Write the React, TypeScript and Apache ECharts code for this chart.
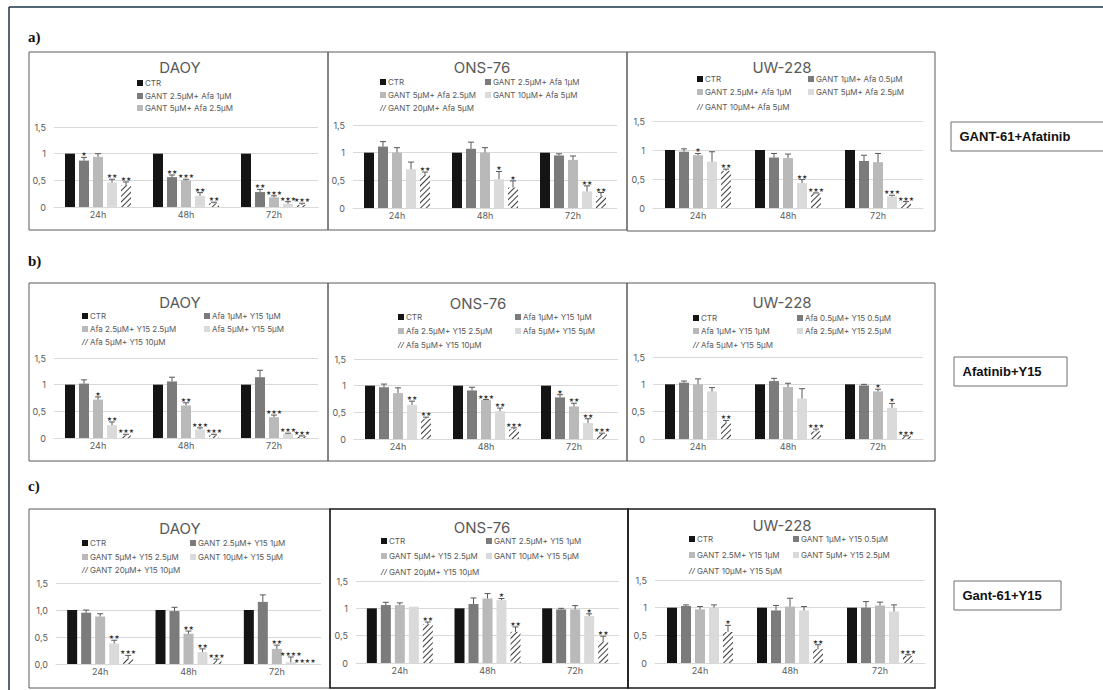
import React, { useEffect, useRef } from "react";
import * as echarts from "echarts";

const TIME_POINTS = ["24h", "48h", "72h"];
const Y_TICK_LABELS = ["0", "0,5", "1", "1,5"];
const Y_TICK_LABELS_DEC = ["0,0", "0,5", "1,0", "1,5"];

// ---------- a) GANT-61 + Afatinib ----------
const A_DAOY_NAMES = ["CTR", "GANT 2.5µM+ Afa 1µM", "GANT 5µM+ Afa 2.5µM", "GANT 10µM+ Afa 5µM", "GANT 20µM+ Afa 5µM"];
const A_DAOY_MEAN = [[1, 1, 1], [0.87, 0.56, 0.28], [0.94, 0.5, 0.18], [0.46, 0.21, 0.06], [0.41, 0.07, 0.04]];
const A_DAOY_ERR = [[0, 0, 0], [0.06, 0.04, 0.05], [0.06, 0.02, 0.03], [0.06, 0.06, 0.04], [0.06, 0.02, 0.03]];
const A_DAOY_SIG = [["", "", ""], ["★", "★★", "★★"], ["", "★★★", "★★★"], ["★★", "★★", "★★★"], ["★★", "★★", "★★★"]];

const A_ONS_NAMES = ["CTR", "GANT 2.5µM+ Afa 1µM", "GANT 5µM+ Afa 2.5µM", "GANT 10µM+ Afa 5µM", "GANT 20µM+ Afa 5µM"];
const A_ONS_MEAN = [[1, 1, 1], [1.11, 1.07, 0.95], [1.0, 1.0, 0.87], [0.7, 0.52, 0.3], [0.6, 0.37, 0.21]];
const A_ONS_ERR = [[0, 0, 0], [0.09, 0.12, 0.03], [0.09, 0.09, 0.07], [0.13, 0.14, 0.1], [0.05, 0.12, 0.07]];
const A_ONS_SIG = [["", "", ""], ["", "", ""], ["", "", ""], ["", "★", "★★"], ["★★", "★", "★★"]];

const A_UW_NAMES = ["CTR", "GANT 1µM+ Afa 0.5µM", "GANT 2.5µM+ Afa 1µM", "GANT 5µM+ Afa 2.5µM", "GANT 10µM+ Afa 5µM"];
const A_UW_MEAN = [[1, 1, 1], [0.97, 0.87, 0.81], [0.91, 0.86, 0.79], [0.8, 0.43, 0.2], [0.64, 0.25, 0.09]];
const A_UW_ERR = [[0, 0, 0], [0.05, 0.07, 0.1], [0.03, 0.07, 0.15], [0.17, 0.06, 0.02], [0.03, 0.01, 0.02]];
const A_UW_SIG = [["", "", ""], ["", "", ""], ["★", "", ""], ["", "★★", "★★★"], ["★★", "★★★", "★★★"]];

// ---------- b) Afatinib + Y15 ----------
const B_DAOY_NAMES = ["CTR", "Afa 1µM+ Y15 1µM", "Afa 2.5µM+ Y15 2.5µM", "Afa 5µM+ Y15 5µM", "Afa 5µM+ Y15 10µM"];
const B_DAOY_MEAN = [[1, 1, 1], [1.02, 1.06, 1.14], [0.72, 0.61, 0.39], [0.24, 0.16, 0.08], [0.05, 0.05, 0.03]];
const B_DAOY_ERR = [[0, 0, 0], [0.07, 0.08, 0.13], [0.05, 0.05, 0.04], [0.06, 0.03, 0.01], [0.02, 0.02, 0.01]];
const B_DAOY_SIG = [["", "", ""], ["", "", ""], ["★", "★★", "★★★"], ["★★", "★★★", "★★★"], ["★★★", "★★★", "★★★"]];

const B_ONS_NAMES = ["CTR", "Afa 1µM+ Y15 1µM", "Afa 2.5µM+ Y15 2.5µM", "Afa 5µM+ Y15 5µM", "Afa 5µM+ Y15 10µM"];
const B_ONS_MEAN = [[1, 1, 1], [0.97, 0.91, 0.78], [0.86, 0.73, 0.61], [0.64, 0.52, 0.3], [0.38, 0.18, 0.1]];
const B_ONS_ERR = [[0, 0, 0], [0.06, 0.06, 0.05], [0.1, 0.01, 0.06], [0.07, 0.06, 0.08], [0.03, 0.03, 0.01]];
const B_ONS_SIG = [["", "", ""], ["", "", "★"], ["", "★★★", "★★"], ["★★", "★★", "★★"], ["★★", "★★★", "★★★"]];

const B_UW_NAMES = ["CTR", "Afa 0.5µM+ Y15 0.5µM", "Afa 1µM+ Y15 1µM", "Afa 2.5µM+ Y15 2.5µM", "Afa 5µM+ Y15 5µM"];
const B_UW_MEAN = [[1, 1, 1], [1.03, 1.06, 0.98], [1.0, 0.95, 0.87], [0.87, 0.74, 0.57], [0.29, 0.14, 0.05]];
const B_UW_ERR = [[0, 0, 0], [0.03, 0.05, 0.02], [0.1, 0.07, 0.04], [0.07, 0.18, 0.08], [0.05, 0.04, 0.01]];
const B_UW_SIG = [["", "", ""], ["", "", ""], ["", "", "★"], ["", "", "★"], ["★★", "★★★", "★★★"]];

// ---------- c) GANT-61 + Y15 ----------
const C_DAOY_NAMES = ["CTR", "GANT 2.5µM+ Y15 1µM", "GANT 5µM+ Y15 2.5µM", "GANT 10µM+ Y15 5µM", "GANT 20µM+ Y15 10µM"];
const C_DAOY_MEAN = [[1, 1, 1], [0.95, 0.98, 1.15], [0.88, 0.56, 0.28], [0.38, 0.22, 0.03], [0.1, 0.06, 0.005]];
const C_DAOY_ERR = [[0, 0, 0], [0.05, 0.07, 0.13], [0.05, 0.05, 0.07], [0.06, 0.06, 0.1], [0.06, 0.03, 0]];
const C_DAOY_SIG = [["", "", ""], ["", "", ""], ["", "★★", "★★"], ["★★", "★★", "★★★★"], ["★★★", "★★★", "★★★★"]];

const C_ONS_NAMES = ["CTR", "GANT 2.5µM+ Y15 1µM", "GANT 5µM+ Y15 2.5µM", "GANT 10µM+ Y15 5µM", "GANT 20µM+ Y15 10µM"];
const C_ONS_MEAN = [[1, 1, 1], [1.06, 1.08, 0.98], [1.06, 1.18, 0.98], [1.03, 1.15, 0.86], [0.71, 0.57, 0.39]];
const C_ONS_ERR = [[0, 0, 0], [0.05, 0.11, 0.02], [0.04, 0.09, 0.07], [0.0, 0.03, 0.04], [0.04, 0.09, 0.1]];
const C_ONS_SIG = [["", "", ""], ["", "", ""], ["", "", ""], ["", "★", "★"], ["★★", "★★", "★★"]];

const C_UW_NAMES = ["CTR", "GANT 1µM+ Y15 0.5µM", "GANT 2.5M+ Y15 1µM", "GANT 5µM+ Y15 2.5µM", "GANT 10µM+ Y15 5µM"];
const C_UW_MEAN = [[1, 1, 1], [1.03, 0.95, 1.0], [0.97, 1.02, 1.04], [1.0, 0.95, 0.93], [0.56, 0.25, 0.13]];
const C_UW_ERR = [[0, 0, 0], [0.02, 0.09, 0.11], [0.05, 0.15, 0.06], [0.05, 0.07, 0.12], [0.12, 0.08, 0.02]];
const C_UW_SIG = [["", "", ""], ["", "", ""], ["", "", ""], ["", "", ""], ["★", "★★", "★★★"]];

const ROW_LABELS = ["a)", "b)", "c)"];
const COMBO_LABELS = ["GANT-61+Afatinib", "Afatinib+Y15", "Gant-61+Y15"];

const PANELS = [
  { title: "DAOY", names: A_DAOY_NAMES, mean: A_DAOY_MEAN, err: A_DAOY_ERR, sig: A_DAOY_SIG, ticks: Y_TICK_LABELS, legendCount: 3 },
  { title: "ONS-76", names: A_ONS_NAMES, mean: A_ONS_MEAN, err: A_ONS_ERR, sig: A_ONS_SIG, ticks: Y_TICK_LABELS, legendCount: 5 },
  { title: "UW-228", names: A_UW_NAMES, mean: A_UW_MEAN, err: A_UW_ERR, sig: A_UW_SIG, ticks: Y_TICK_LABELS, legendCount: 5 },
  { title: "DAOY", names: B_DAOY_NAMES, mean: B_DAOY_MEAN, err: B_DAOY_ERR, sig: B_DAOY_SIG, ticks: Y_TICK_LABELS, legendCount: 5 },
  { title: "ONS-76", names: B_ONS_NAMES, mean: B_ONS_MEAN, err: B_ONS_ERR, sig: B_ONS_SIG, ticks: Y_TICK_LABELS, legendCount: 5 },
  { title: "UW-228", names: B_UW_NAMES, mean: B_UW_MEAN, err: B_UW_ERR, sig: B_UW_SIG, ticks: Y_TICK_LABELS, legendCount: 5 },
  { title: "DAOY", names: C_DAOY_NAMES, mean: C_DAOY_MEAN, err: C_DAOY_ERR, sig: C_DAOY_SIG, ticks: Y_TICK_LABELS_DEC, legendCount: 5 },
  { title: "ONS-76", names: C_ONS_NAMES, mean: C_ONS_MEAN, err: C_ONS_ERR, sig: C_ONS_SIG, ticks: Y_TICK_LABELS, legendCount: 5 },
  { title: "UW-228", names: C_UW_NAMES, mean: C_UW_MEAN, err: C_UW_ERR, sig: C_UW_SIG, ticks: Y_TICK_LABELS, legendCount: 5 },
];

// ---------- layout (pixels) ----------
const LAYOUT = [
  { grid: [54, 127, 264, 80], title: [180, 67], cols: [137], rows: [83, 96, 108], single: true, frame: [29, 52, 299, 178] },
  { grid: [353, 125, 264, 83], title: [482, 67], cols: [380, 485], rows: [82, 95, 108], frame: [328, 52, 299, 178] },
  { grid: [653, 121, 270, 87], title: [782, 67], cols: [697, 808], rows: [79, 92, 107], frame: [627, 52, 308, 179] },
  { grid: [54, 358, 264, 80], title: [180, 302], cols: [82, 204], rows: [316, 329, 342], frame: [29, 283, 299, 178] },
  { grid: [354, 359, 264, 80], title: [478, 303], cols: [398, 515], rows: [317, 331, 345], frame: [328, 283, 299, 178] },
  { grid: [653, 357, 270, 82], title: [782, 302], cols: [693, 797], rows: [318, 331, 345], frame: [627, 283, 308, 178] },
  { grid: [56, 583, 265, 81], title: [180, 528], cols: [82, 190], rows: [543, 557, 570], frame: [29, 509, 301, 179] },
  { grid: [356, 581, 263, 82], title: [482, 527], cols: [381, 486], rows: [541, 556, 572], frame: [330, 509, 298, 179], strong: true },
  { grid: [655, 580, 270, 83], title: [782, 525], cols: [689, 793], rows: [539, 555, 571], frame: [628, 509, 307, 179], strong: true },
];
const ROW_LABEL_POS = [[28, 37], [28, 261], [28, 486]];
const COMBO_BOX = [[951, 122, 160, 29], [954, 357, 113, 29], [954, 581, 107, 29]];

const BAR_COLORS = ["#141414", "#7b7b7b", "#b9b9b9", "#dadada", "#ffffff"];
const BAR_W = 10;
const BAR_GAP = 4;
const TXT = "#595959";
const FONT = "Inter, 'Noto Sans', sans-serif";

const HATCH = {
  symbol: "rect",
  symbolSize: 1,
  dashArrayX: [1, 0],
  dashArrayY: [0.9, 2.1],
  rotation: -Math.PI / 4,
  color: "#3c3c3c",
  backgroundColor: "#ffffff",
};

function buildOption() {
  const grid: any[] = [];
  const xAxis: any[] = [];
  const yAxis: any[] = [];
  const series: any[] = [];
  const graphic: any[] = [];

  PANELS.forEach((panel, p) => {
    const L = LAYOUT[p];
    grid.push({ left: L.grid[0], top: L.grid[1], width: L.grid[2], height: L.grid[3], containLabel: false });
    xAxis.push({
      type: "category",
      gridIndex: p,
      data: TIME_POINTS,
      axisTick: { show: false },
      axisLine: { lineStyle: { color: "#d9d9d9" } },
      axisLabel: { color: TXT, fontSize: 9, margin: 3, fontFamily: FONT },
    });
    const ticks = panel.ticks;
    yAxis.push({
      type: "value",
      gridIndex: p,
      min: 0,
      max: 1.5,
      interval: 0.5,
      axisLine: { show: false },
      axisTick: { show: false },
      splitLine: { lineStyle: { color: "#d9d9d9" } },
      axisLabel: {
        color: TXT,
        fontSize: 9,
        margin: 8,
        fontFamily: FONT,
        formatter: (v: number) => ticks[Math.round(v / 0.5)] ?? "",
      },
    });

    panel.names.forEach((name, s) => {
      series.push({
        type: "bar",
        name,
        xAxisIndex: p,
        yAxisIndex: p,
        data: panel.mean[s],
        barWidth: BAR_W,
        barGap: (BAR_GAP / BAR_W) * 100 + "%",
        silent: true,
        itemStyle: s === 4 ? { color: "#ffffff", decal: HATCH } : { color: BAR_COLORS[s] },
      });
    });

    const items: any[] = [];
    const sigs: string[] = [];
    panel.names.forEach((_, s) => {
      TIME_POINTS.forEach((__, t) => {
        items.push([t, s, panel.mean[s][t], panel.err[s][t]]);
        sigs.push(panel.sig[s][t]);
      });
    });
    series.push({
      type: "custom",
      xAxisIndex: p,
      yAxisIndex: p,
      silent: true,
      clip: false,
      z: 5,
      encode: { x: 0, y: 2 },
      data: items,
      renderItem: (params: any, api: any) => {
        const t = api.value(0);
        const s = api.value(1);
        const m = api.value(2);
        const e = api.value(3);
        const base = api.coord([t, m]);
        const top = api.coord([t, m + e]);
        const x = base[0] + (s - 2) * (BAR_W + BAR_GAP);
        const children: any[] = [];
        if (e > 0) {
          children.push({ type: "line", shape: { x1: x, y1: base[1], x2: x, y2: top[1] }, style: { stroke: "#595959", lineWidth: 1 } });
          children.push({ type: "line", shape: { x1: x - 3, y1: top[1], x2: x + 3, y2: top[1] }, style: { stroke: "#595959", lineWidth: 1 } });
        }
        const sig = sigs[params.dataIndex];
        if (sig) {
          children.push({
            type: "text",
            x,
            y: top[1] - 0.5,
            style: {
              text: sig,
              fill: "#333333",
              fontSize: 6,
              fontFamily: "'DejaVu Sans'",
              align: "center",
              verticalAlign: "bottom",
              textAlign: "center",
              textVerticalAlign: "bottom",
            },
          });
        }
        return { type: "group", children };
      },
    });

    // frame
    graphic.push({
      type: "rect",
      shape: { x: L.frame[0], y: L.frame[1], width: L.frame[2], height: L.frame[3] },
      style: { fill: "none", stroke: L.strong ? "#1a1a1a" : "#5a5a5a", lineWidth: L.strong ? 1.5 : 1 },
      z: 10,
      silent: true,
    });
    // title
    graphic.push({
      type: "text",
      x: L.title[0],
      y: L.title[1],
      style: {
        text: panel.title,
        fill: TXT,
        fontSize: 15,
        fontFamily: FONT,
        align: "center",
        verticalAlign: "middle",
        textAlign: "center",
        textVerticalAlign: "middle",
      },
      silent: true,
    });
    // legend
    for (let i = 0; i < panel.legendCount; i++) {
      const col = L.single ? 0 : i % 2;
      const row = L.single ? i : Math.floor(i / 2);
      const lx = L.cols[col];
      const ly = L.rows[row];
      if (i === 4) {
        graphic.push({ type: "line", shape: { x1: lx, y1: ly + 3, x2: lx + 3, y2: ly - 3 }, style: { stroke: "#555", lineWidth: 0.8 }, silent: true });
        graphic.push({ type: "line", shape: { x1: lx + 3, y1: ly + 3, x2: lx + 6, y2: ly - 3 }, style: { stroke: "#555", lineWidth: 0.8 }, silent: true });
      } else {
        graphic.push({ type: "rect", shape: { x: lx, y: ly - 3, width: 6, height: 6 }, style: { fill: BAR_COLORS[i] }, silent: true });
      }
      graphic.push({
        type: "text",
        x: lx + 8,
        y: ly,
        style: {
          text: panel.names[i],
          fill: TXT,
          fontSize: 8,
          fontFamily: FONT,
          align: "left",
          verticalAlign: "middle",
          textAlign: "left",
          textVerticalAlign: "middle",
        },
        silent: true,
      });
    }
  });

  ROW_LABELS.forEach((lab, r) => {
    graphic.push({
      type: "text",
      x: ROW_LABEL_POS[r][0],
      y: ROW_LABEL_POS[r][1],
      style: {
        text: lab,
        fill: "#111",
        fontSize: 15,
        fontWeight: "bold",
        fontFamily: "'Liberation Serif', serif",
        align: "left",
        verticalAlign: "middle",
        textAlign: "left",
        textVerticalAlign: "middle",
      },
      silent: true,
    });
  });

  COMBO_LABELS.forEach((lab, r) => {
    const b = COMBO_BOX[r];
    graphic.push({
      type: "rect",
      shape: { x: b[0], y: b[1], width: b[2], height: b[3] },
      style: { fill: "#fff", stroke: "#6f6f6f", lineWidth: 1 },
      silent: true,
    });
    graphic.push({
      type: "text",
      x: b[0] + 8.5,
      y: b[1] + b[3] / 2,
      style: {
        text: lab,
        fill: "#111",
        fontSize: 13,
        fontWeight: "bold",
        fontFamily: "'Liberation Sans', Arial, sans-serif",
        align: "left",
        verticalAlign: "middle",
        textAlign: "left",
        textVerticalAlign: "middle",
      },
      silent: true,
    });
  });

  // outer frame (top and left edges)
  graphic.push({ type: "line", shape: { x1: 9, y1: 7, x2: 1103, y2: 7 }, style: { stroke: "#1d3447", lineWidth: 1.5 }, silent: true });
  graphic.push({ type: "line", shape: { x1: 9, y1: 7, x2: 9, y2: 690 }, style: { stroke: "#1d3447", lineWidth: 1.5 }, silent: true });

  return {
    animation: false,
    backgroundColor: "#ffffff",
    textStyle: { fontFamily: FONT },
    grid,
    xAxis,
    yAxis,
    series,
    graphic: { elements: graphic },
  };
}

export default function App() {
  const ref = useRef<HTMLDivElement>(null);
  useEffect(() => {
    if (!ref.current) return;
    const chart = echarts.init(ref.current, null, { renderer: "svg" });
    chart.setOption(buildOption() as any);
    return () => chart.dispose();
  }, []);
  return (
    <div
      ref={ref}
      style={{ position: "fixed", left: 0, top: 0, width: 1103, height: 690, background: "#fff" }}
    />
  );
}
